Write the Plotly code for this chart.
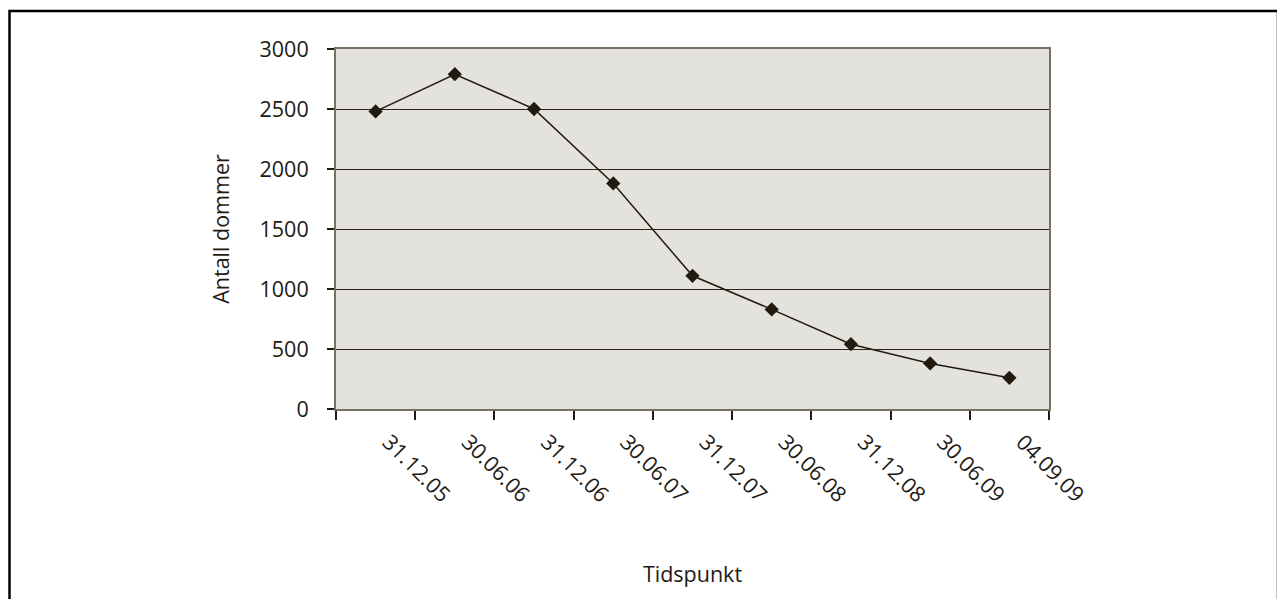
import plotly.graph_objects as go

categories = ["31.12.05", "30.06.06", "31.12.06", "30.06.07", "31.12.07",
              "30.06.08", "31.12.08", "30.06.09", "04.09.09"]
values = [2480, 2790, 2500, 1880, 1110, 830, 540, 380, 260]
y_ticks = [0, 500, 1000, 1500, 2000, 2500, 3000]

# page is offset by the 8px body margin
OFF = 8
W, H = 1285 - OFF, 607 - 2 * OFF
L, R, T, B = 336 - OFF, 1049 - OFF, 49 - OFF, 409.5 - OFF

def px_x(p):
    return (p - OFF - L) / (R - L)

def px_y(p):
    return (B - (p - OFF)) / (B - T)

TXT = "#1e1a15"
DARK = "#231a0f"
AXIS = "#77725f"
FS = 21.5

fig = go.Figure()
fig.add_trace(go.Scatter(
    x=categories, y=values, mode="lines+markers",
    line=dict(color=DARK, width=1.5),
    marker=dict(symbol="diamond", size=11, color=DARK),
    showlegend=False, cliponaxis=False,
))

fig.update_layout(
    width=W, height=H,
    margin=dict(l=L, r=W - R, t=T, b=H - B),
    paper_bgcolor="white",
    plot_bgcolor="#E3E2DC",
    font=dict(family="Open Sans", size=FS, color=TXT),
    xaxis=dict(
        type="category", range=[-0.5, 8.5],
        tickson="boundaries", ticks="outside", ticklen=9, tickwidth=1.5,
        tickcolor=DARK, showline=True, linecolor=AXIS, linewidth=2,
        mirror=True, showgrid=False, tickangle=45,
        ticklabelshift=13, ticklabelstandoff=10,
        tickfont=dict(size=FS, color=TXT),
        title=dict(text="Tidspunkt", font=dict(size=FS, color=TXT), standoff=60),
    ),
    yaxis=dict(
        range=[0, 3000], tickvals=y_ticks, ticks="outside", ticklen=7,
        tickwidth=1.5, tickcolor=DARK, showline=True, linecolor=AXIS,
        linewidth=2, mirror=True, showgrid=True, gridcolor="#2b2419",
        gridwidth=1.2, zeroline=False, ticklabelstandoff=14,
        tickfont=dict(size=FS, color=TXT),
        title=dict(text="Antall dommer", font=dict(size=FS, color=TXT), standoff=24),
    ),
    shapes=[dict(
        type="rect", xref="paper", yref="paper",
        x0=px_x(9.5), x1=px_x(1278), y0=px_y(900), y1=px_y(11),
        line=dict(color="black", width=2.5), fillcolor="rgba(0,0,0,0)",
        layer="above",
    )],
)

fig.write_html("out.html")
